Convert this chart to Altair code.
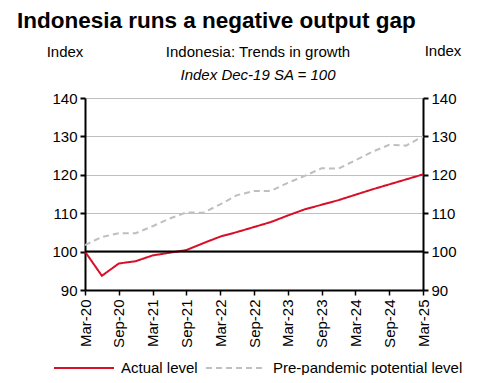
import altair as alt
import pandas as pd

quarters = list(range(21))
actual = [100.0, 93.7, 96.9, 97.5, 99.0, 99.7, 100.4, 102.2, 103.9, 105.1, 106.4,
          107.7, 109.4, 111.0, 112.2, 113.4, 114.8, 116.2, 117.5, 118.8, 120.1]
potential = [101.7, 103.8, 104.8, 104.8, 106.6, 108.6, 110.2, 110.1, 112.3, 114.7, 115.8,
             115.8, 117.9, 119.7, 121.7, 121.6, 123.8, 126.0, 127.8, 127.6, 130.0]
tick_labels = ["Mar-20", "Sep-20", "Mar-21", "Sep-21", "Mar-22", "Sep-22",
               "Mar-23", "Sep-23", "Mar-24", "Sep-24", "Mar-25"]
series_names = ["Actual level", "Pre-pandemic potential level"]
y_ticks = [90, 100, 110, 120, 130, 140]

rows = []
for q, a, p in zip(quarters, actual, potential):
    rows.append({"q": q, "value": a, "series": series_names[0]})
    rows.append({"q": q, "value": p, "series": series_names[1]})
df = pd.DataFrame(rows)

FONT = "Liberation Sans"
label_expr = "[" + ",".join(f"'{t}'" for t in tick_labels) + "][round(datum.value/2)]"

x_enc = alt.X("q:Q", scale=alt.Scale(domain=[0, 20], nice=False),
              axis=alt.Axis(values=list(range(0, 21, 2)), labelExpr=label_expr,
                            labelAngle=-90, labelAlign="right", labelBaseline="middle",
                            title=None, grid=False, domainColor="black", domainWidth=2,
                            tickColor="black", tickSize=5, tickWidth=1.5,
                            labelFontSize=15, labelPadding=4, labelColor="black"))
yscale = alt.Scale(domain=[90, 140], nice=False)

legend_kw = dict(title=None, orient="none", legendX=-32, legendY=239,
                 direction="horizontal", symbolType="stroke",
                 symbolSize=3600, symbolStrokeWidth=2,
                 labelFontSize=15, labelFont=FONT, labelColor="black",
                 labelOffset=6, columnPadding=4, labelLimit=0)

lines = alt.Chart(df).mark_line(strokeWidth=2).encode(
    x=x_enc,
    y=alt.Y("value:Q", scale=yscale,
            axis=alt.Axis(values=y_ticks, title=None, grid=True, gridColor="#bfbfbf",
                          gridWidth=1, domainColor="black", domainWidth=2,
                          tickColor="black", tickSize=5, tickWidth=2,
                          labelFontSize=15, labelPadding=3, labelColor="black")),
    color=alt.Color("series:N", scale=alt.Scale(domain=series_names, range=["#d7102a", "#bfbfbf"]),
                    legend=alt.Legend(**legend_kw)),
    strokeDash=alt.StrokeDash("series:N", scale=alt.Scale(domain=series_names, range=[[1, 0], [6, 4]]),
                              legend=alt.Legend(**legend_kw)),
)

base_df = pd.DataFrame({"v": [100]})
rule100 = alt.Chart(base_df).mark_rule(color="black", strokeWidth=2).encode(
    y=alt.Y("v:Q", scale=yscale,
            axis=alt.Axis(orient="right", values=y_ticks, title=None, grid=False,
                          domainColor="black", domainWidth=2, tickColor="black",
                          tickSize=5, tickWidth=2, labelFontSize=15, labelPadding=3,
                          labelColor="black")),
)

def txt(s, x, y, size=15, weight="normal", style="normal", align="center", baseline="middle"):
    return alt.Chart(base_df).mark_text(text=s, font=FONT, fontSize=size, fontWeight=weight,
                                        fontStyle=style, align=align, baseline=baseline,
                                        color="black").encode(x=alt.value(x), y=alt.value(y))

texts = [
    txt("Indonesia runs a negative output gap", -68, -70, size=22.5, weight="bold",
        align="left", baseline="alphabetic"),
    txt("Index", -20, -46),
    txt("Index", 358, -47),
    txt("Indonesia: Trends in growth", 173, -46),
    txt("Index Dec-19 SA = 100", 173, -23, style="italic"),
]

chart = alt.layer(lines, rule100, *texts).resolve_axis(y="independent").resolve_scale(
    y="shared").properties(
    width=338, height=192,
    autosize=alt.AutoSizeParams(type="none"),
    padding={"left": 77, "top": 90, "right": 46, "bottom": 85},
).configure_view(stroke=None).configure_axis(labelFont=FONT).configure(font=FONT)

chart.save("out.html", embed_options={"renderer": "svg", "actions": False})
